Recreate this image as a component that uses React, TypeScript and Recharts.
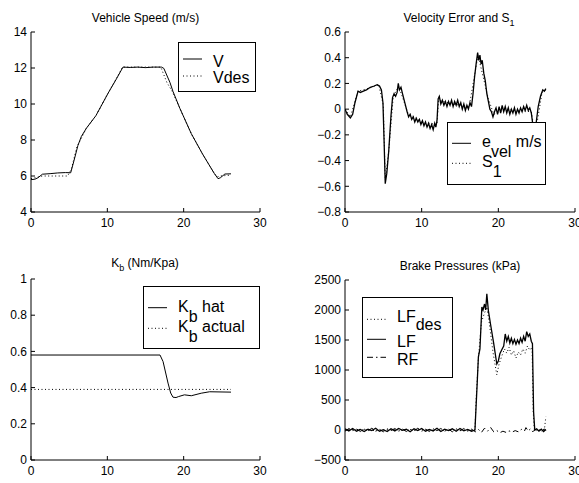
import { LineChart, Line, XAxis, YAxis } from "recharts";

type Pt = [number, number];

// ---- Vehicle speed (m/s) ----
const speedV: Pt[] = [
  [0, 5.8], [0.5, 5.82], [0.9, 5.9], [1.5, 6.1], [2.5, 6.13], [3.5, 6.17], [4.5, 6.19], [5.2, 6.18],
  [5.6, 6.8], [6.15, 7.7], [6.6, 8.2], [7.25, 8.65], [8.5, 9.35], [10.1, 10.6], [11.2, 11.4],
  [12.05, 12.05], [13, 12.03], [14, 12.05], [15, 12.02], [16, 12.05], [17.1, 12.05], [17.4, 11.98],
  [18.2, 11.2], [18.6, 10.7], [19.5, 9.76], [21, 8.35], [22.5, 7.2], [24, 6.15], [24.5, 5.85],
  [24.8, 5.9], [25.4, 6.11], [26.2, 6.12],
];
const speedVdes: Pt[] = [
  [0, 5.85], [1, 5.95], [1.5, 6.0], [4.8, 6.0], [5.3, 6.4], [6.0, 7.6], [7.25, 8.65], [8.5, 9.35],
  [10.1, 10.6], [12.0, 12.05], [17.0, 12.05], [17.8, 11.2], [18.5, 10.7], [19.5, 9.76],
  [21, 8.35], [22.5, 7.2], [24, 6.15], [24.4, 5.95], [24.8, 6.0], [26.2, 6.05],
];

// ---- Velocity error and S1 ----
const eVel: Pt[] = [
  [0, 0], [0.3, -0.04], [0.7, -0.068], [1.0, -0.04], [1.3, 0.05], [1.7, 0.14], [2.0, 0.13], [2.4, 0.14],
  [2.8, 0.15], [3.3, 0.17], [3.8, 0.18], [4.2, 0.19], [4.5, 0.18], [4.75, 0.15], [4.95, 0.05],
  [5.1, -0.25], [5.25, -0.58], [5.45, -0.5], [5.7, -0.33], [6.0, -0.05], [6.2, 0.09], [6.4, 0.12],
  [6.6, 0.1], [6.8, 0.13], [6.95, 0.2], [7.1, 0.15], [7.3, 0.17], [7.5, 0.12], [7.8, 0.05],
  [8.1, -0.02], [8.3, -0.06], [8.5, -0.04], [8.7, -0.08], [8.9, -0.06], [9.1, -0.1], [9.3, -0.07],
  [9.5, -0.1], [9.7, -0.08], [9.9, -0.12], [10.1, -0.09], [10.3, -0.13], [10.5, -0.1], [10.7, -0.14],
  [10.9, -0.11], [11.1, -0.15], [11.3, -0.12], [11.5, -0.16], [11.7, -0.11], [11.85, -0.14],
  [12.0, -0.09], [12.15, 0.08], [12.3, 0.1], [12.5, 0.04], [12.7, 0.07], [12.9, 0.03], [13.1, 0.06],
  [13.3, 0.02], [13.5, 0.06], [13.7, 0.03], [13.9, 0.07], [14.1, 0.02], [14.3, 0.06], [14.5, 0.03],
  [14.7, 0.07], [14.9, 0.02], [15.1, 0.05], [15.3, 0.0], [15.5, 0.04], [15.7, -0.01], [15.9, 0.03],
  [16.1, 0.0], [16.3, 0.05], [16.5, 0.02], [16.7, 0.12], [16.9, 0.25], [17.1, 0.35], [17.3, 0.44],
  [17.45, 0.38], [17.6, 0.42], [17.75, 0.35], [17.9, 0.38], [18.1, 0.28], [18.3, 0.22], [18.5, 0.12],
  [18.7, 0.06], [18.9, 0.0], [19.1, -0.02], [19.3, -0.06], [19.5, -0.02], [19.7, 0.01], [19.9, -0.04],
  [20.1, 0.02], [20.3, -0.03], [20.5, 0.03], [20.7, -0.02], [20.9, 0.02], [21.1, -0.03], [21.3, 0.01],
  [21.5, -0.04], [21.7, 0.0], [21.9, -0.03], [22.1, 0.01], [22.3, -0.04], [22.5, 0.0], [22.7, -0.03],
  [22.9, 0.01], [23.1, -0.02], [23.3, 0.02], [23.5, -0.01], [23.7, 0.03], [23.9, -0.01], [24.1, 0.01],
  [24.3, -0.03], [24.5, -0.12], [24.75, -0.25], [24.95, -0.1], [25.2, 0.02], [25.5, 0.1], [25.8, 0.15],
  [26.0, 0.14], [26.2, 0.16],
];
const s1: Pt[] = [
  [0, 0], [0.7, -0.06], [1.7, 0.14], [3, 0.16], [4.4, 0.19], [5.0, 0.03], [5.25, -0.55], [5.7, -0.33],
  [6.3, 0.1], [7.0, 0.18], [8.2, -0.03], [10, -0.1], [12, -0.12], [12.2, 0.07], [14, 0.04], [16.2, 0.02],
  [17.35, 0.42], [18.7, 0.08], [19.4, -0.04], [21, 0.0], [24.3, -0.02], [24.8, -0.2], [25.7, 0.13],
  [26.2, 0.15],
];

// ---- Kb (Nm/Kpa) ----
const kbHat: Pt[] = [
  [0, 0.58], [16.9, 0.58], [17.3, 0.544], [17.95, 0.425], [18.3, 0.37], [18.6, 0.347], [19.0, 0.345],
  [19.3, 0.35], [20.1, 0.36], [21, 0.355], [22.3, 0.369], [23.4, 0.377], [26.2, 0.375],
];
const kbActual: Pt[] = [[0, 0.39], [26.2, 0.39]];

// ---- Brake pressures (kPa) ----
const lfDes: Pt[] = [
  [0, 0], [2, 10], [4, -10], [6, 5], [8, -5], [10, 10], [12, -10], [14, 5], [16, -5], [16.95, 0],
  [17.1, 500], [17.4, 1200], [17.8, 1800], [18.2, 1950], [18.5, 2050], [18.8, 1800], [19.3, 1300],
  [19.8, 920], [20.1, 1100], [20.5, 1250], [20.8, 1350], [21.1, 1280], [21.4, 1380], [21.7, 1250],
  [22, 1320], [22.3, 1200], [22.6, 1300], [22.9, 1250], [23.2, 1350], [23.5, 1280], [23.8, 1400],
  [24.1, 1330], [24.4, 1380], [24.55, 300], [24.7, 0], [25.5, 0], [26.0, 0], [26.2, 220],
];
const lf: Pt[] = [
  [0, 20], [0.5, -15], [1, 25], [1.5, -20], [2, 10], [2.5, -25], [3, 15], [3.5, -10], [4, 30], [4.5, -20],
  [5, 5], [5.5, -25], [6, 20], [6.5, -15], [7, 25], [7.5, -5], [8, 15], [8.5, -30], [9, 20], [9.5, -10],
  [10, 25], [10.5, -20], [11, 10], [11.5, -15], [12, 30], [12.5, -25], [13, 15], [13.5, -10], [14, 20],
  [14.5, -20], [15, 25], [15.5, -15], [16, 10], [16.5, -20], [16.95, 0], [17.1, 400], [17.25, 800],
  [17.4, 1220], [17.6, 1350], [17.85, 2050], [18.0, 2000], [18.2, 2100], [18.35, 2000], [18.5, 2270],
  [18.7, 1990], [19.0, 1750], [19.4, 1440], [19.8, 1100], [20.0, 1150], [20.2, 1270], [20.5, 1350],
  [20.7, 1400], [20.9, 1600], [21.1, 1480], [21.3, 1560], [21.5, 1450], [21.7, 1530], [21.9, 1440],
  [22.1, 1510], [22.3, 1430], [22.5, 1500], [22.7, 1440], [22.9, 1530], [23.1, 1460], [23.3, 1560],
  [23.5, 1480], [23.7, 1640], [23.9, 1560], [24.1, 1600], [24.3, 1480], [24.45, 1440], [24.6, 300],
  [24.75, 0], [25, 20], [25.3, -20], [25.6, 15], [25.9, -25], [26.2, 10],
];
const rf: Pt[] = [
  [0, -20], [0.5, 25], [1, -10], [1.5, 20], [2, -25], [2.5, 15], [3, -15], [3.5, 30], [4, -20], [4.5, 10],
  [5, -30], [5.5, 20], [6, -10], [6.5, 25], [7, -20], [7.5, 15], [8, -25], [8.5, 10], [9, -15], [9.5, 30],
  [10, -20], [10.5, 15], [11, -25], [11.5, 20], [12, -10], [12.5, 25], [13, -20], [13.5, 15], [14, -30],
  [14.5, 20], [15, -15], [15.5, 25], [16, -20], [16.5, 15], [17, -30], [17.4, 10], [17.8, -40], [18.2, 30],
  [18.6, -20], [19, 40], [19.4, -30], [19.8, -10], [20.2, -45], [20.6, -20], [21, -40], [21.4, -15],
  [21.8, -35], [22.2, -10], [22.6, -30], [23, 10], [23.4, -20], [23.6, 40], [23.9, -15], [24.2, 20],
  [24.5, -30], [24.8, 10], [25.1, -25], [25.4, 15], [25.7, -20], [26, 20], [26.2, -10],
];

const timeTicks = [0, 10, 20, 30];
const speedTicks = [4, 6, 8, 10, 12, 14];
const errTicks = [-0.8, -0.6, -0.4, -0.2, 0, 0.2, 0.4, 0.6];
const kbTicks = [0, 0.2, 0.4, 0.6, 0.8, 1];
const pressTicks = [-500, 0, 500, 1000, 1500, 2000, 2500];

const FONT = '"Liberation Sans", Arial, Helvetica, sans-serif';
const DOTTED = "1 2.5";
const DASHDOT = "6 3 1.5 3";

const fmt = (v: number) => String(v).replace("-", "\u2212");

interface Series {
  data: Pt[];
  dash?: string;
  width?: number;
}

interface PanelProps {
  left: number;
  top: number;
  width: number;
  height: number;
  plot: [number, number, number, number];
  yDomain: [number, number];
  yTicks: number[];
  series: Series[];
}

function Panel({ left, top, width, height, plot, yDomain, yTicks, series }: PanelProps) {
  const yAxisW = plot[0] - left;
  const mRight = left + width - plot[2];
  const mTop = plot[1] - top;
  const xAxisH = top + height - plot[3];
  const ax = { stroke: "#000", strokeWidth: 1 };
  const tk = { fill: "#000", fontSize: 12, fontFamily: FONT };
  return (
    <div style={{ position: "absolute", left, top }}>
      <LineChart width={width} height={height} margin={{ top: mTop, right: mRight, left: 0, bottom: 0 }}>
        <XAxis xAxisId="b" type="number" dataKey="t" domain={[0, 30]} ticks={timeTicks} allowDataOverflow
          interval={0} height={xAxisH} tickSize={-4} tickMargin={10} axisLine={ax} tickLine={ax} tick={tk} />
        <XAxis xAxisId="t" orientation="top" type="number" dataKey="t" domain={[0, 30]} ticks={timeTicks}
          allowDataOverflow interval={0} height={0} tickSize={-4} axisLine={ax} tickLine={ax}
          tickFormatter={() => ""} />
        <YAxis yAxisId="l" type="number" domain={yDomain} ticks={yTicks} allowDataOverflow interval={0}
          width={yAxisW} tickSize={-4} tickMargin={8} axisLine={ax} tickLine={ax} tick={tk}
          tickFormatter={fmt} />
        <YAxis yAxisId="r" orientation="right" type="number" domain={yDomain} ticks={yTicks} allowDataOverflow
          interval={0} width={0} tickSize={-4} axisLine={ax} tickLine={ax} tickFormatter={() => ""} />
        {series.map((s, i) => (
          <Line key={i} xAxisId="b" yAxisId="l" type="linear"
            data={s.data.map(([t, v]) => ({ t, v }))} dataKey="v"
            stroke="#000" strokeWidth={s.width ?? 1} strokeDasharray={s.dash}
            dot={false} activeDot={false} isAnimationActive={false} />
        ))}
      </LineChart>
    </div>
  );
}

function Sample({ y, dash }: { y: number; dash?: string }) {
  return <line x1={5} x2={24} y1={y} y2={y} stroke="#000" strokeWidth={1} strokeDasharray={dash} />;
}

export default function App() {
  return (
    <div style={{ position: "absolute", left: 0, top: 0, width: 579, height: 483, background: "#fff", overflow: "hidden" }}>
      <Panel left={0} top={0} width={290} height={240} plot={[31, 32, 260, 212]} yDomain={[4, 14]}
        yTicks={speedTicks}
        series={[{ data: speedVdes, dash: DOTTED }, { data: speedV }]} />
      <Panel left={290} top={0} width={289} height={240} plot={[345, 32, 575, 212]} yDomain={[-0.8, 0.6]}
        yTicks={errTicks}
        series={[{ data: s1, dash: DOTTED }, { data: eVel, width: 1.3 }]} />
      <Panel left={0} top={240} width={290} height={243} plot={[31, 279, 260, 460]} yDomain={[0, 1]}
        yTicks={kbTicks}
        series={[{ data: kbActual, dash: DOTTED }, { data: kbHat }]} />
      <Panel left={290} top={240} width={289} height={243} plot={[345, 280, 575, 460]} yDomain={[-500, 2500]}
        yTicks={pressTicks}
        series={[{ data: rf, dash: DASHDOT }, { data: lfDes, dash: DOTTED }, { data: lf, width: 1.3 }]} />

      <svg width={579} height={483} style={{ position: "absolute", left: 0, top: 0, pointerEvents: "none" }}
        fontFamily={FONT}>
        {/* titles */}
        <text x={145.5} y={21.5} fontSize={12} textAnchor="middle" fill="#000">Vehicle Speed (m/s)</text>
        <text x={459} y={22} fontSize={12} textAnchor="middle" fill="#000">
          Velocity Error and S<tspan dy={4} fontSize={9}>1</tspan>
        </text>
        <text x={145} y={266.5} fontSize={12} textAnchor="middle" fill="#000">
          K<tspan dy={4} fontSize={9}>b</tspan><tspan dy={-4}> (Nm/Kpa)</tspan>
        </text>
        <text x={460} y={269.5} fontSize={12} textAnchor="middle" fill="#000">Brake Pressures (kPa)</text>

        {/* legend: speed */}
        <g transform="translate(178,42)">
          <rect x={0.5} y={0.5} width={77} height={49} fill="#fff" stroke="#000" />
          <Sample y={17} />
          <text x={35} y={24.5} fontSize={16}>V</text>
          <Sample y={34} dash={DOTTED} />
          <text x={35} y={40.5} fontSize={16}>Vdes</text>
        </g>

        {/* legend: velocity error */}
        <g transform="translate(447,122)">
          <rect x={0.5} y={0.5} width={98} height={62} fill="#fff" stroke="#000" />
          <Sample y={21.3} />
          <text x={35} y={25} fontSize={16}>
            e<tspan dy={10}>vel</tspan><tspan dy={-10}> m/s</tspan>
          </text>
          <Sample y={41.3} dash={DOTTED} />
          <text x={35} y={45} fontSize={16}>
            S<tspan dy={10}>1</tspan>
          </text>
        </g>

        {/* legend: Kb */}
        <g transform="translate(143,286)">
          <rect x={0.5} y={0.5} width={116} height={62} fill="#fff" stroke="#000" />
          <Sample y={21.7} />
          <text x={35} y={25.7} fontSize={16}>
            K<tspan dy={10}>b</tspan><tspan dy={-10}> hat</tspan>
          </text>
          <Sample y={42.3} dash={DOTTED} />
          <text x={35} y={45.7} fontSize={16}>
            K<tspan dy={10}>b</tspan><tspan dy={-10}> actual</tspan>
          </text>
        </g>

        {/* legend: brake pressures */}
        <g transform="translate(362,297)">
          <rect x={0.5} y={0.5} width={90} height={80} fill="#fff" stroke="#000" />
          <Sample y={22.3} dash={DOTTED} />
          <text x={35} y={24.7} fontSize={16}>
            LF<tspan dy={8.5}>des</tspan>
          </text>
          <Sample y={42.3} />
          <text x={35} y={49.7} fontSize={16}>LF</text>
          <Sample y={60.3} dash={DASHDOT} />
          <text x={35} y={68} fontSize={16}>RF</text>
        </g>
      </svg>
    </div>
  );
}
